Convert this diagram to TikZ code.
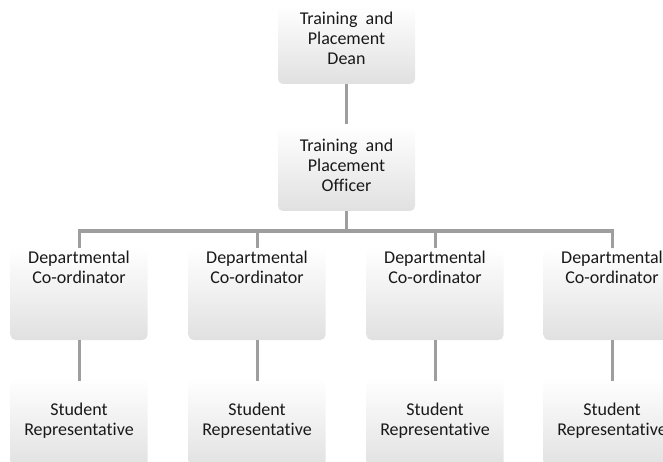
\documentclass[tikz,border=0pt]{standalone}
\usepackage{fontspec}
\setmainfont{Carlito}[Ligatures={NoCommon}]
\begin{document}
\begin{tikzpicture}[x=1pt,y=-1pt,
  box/.style={rectangle, rounded corners=5pt, minimum width=137pt, inner sep=0pt,
    top color=white, middle color=white, bottom color=black!12, draw=none},
  lbl/.style={align=center, inner sep=0pt, font=\fontsize{18}{20}\selectfont, text=black!90},
  conn/.style={draw=black!38, line width=3pt, line join=miter}]
\useasboundingbox (0,0) rectangle (663,462);
\clip (0,0) rectangle (663,462);
% boxes
\node[box, minimum height=79pt] (dean) at (346.5,44.5) {};
\node[box, minimum height=85pt] (officer) at (346.5,168.5) {};
\foreach \i/\x in {1/79,2/257,3/435,4/612}{
  \node[box, minimum height=92pt] (d\i) at (\x,294) {};
  \node[box, minimum height=92pt] (s\i) at (\x,424) {};
  \coordinate (b\i) at (\x,231);
}
\coordinate (ob) at (346.5,231);
% texts
\node[lbl] (deant) at (346.5,38) {Training\ \ and\\Placement\\Dean};
\node[lbl] (officert) at (346.5,165) {Training\ \ and\\Placement\\Officer};
\foreach \i/\x in {1/79,2/257,3/435,4/612}{
  \node[lbl] (dt\i) at (\x,267) {Departmental\\Co-ordinator};
  \node[lbl] (st\i) at (\x,421) {Student\\Representative};
}
% connectors
\draw[conn] (dean.south) -- ([yshift=2pt]officer.north);
\draw[conn] (officer.south) -- (ob);
\draw[conn] (d1.north) -- (b1) -- (b4) -- (d4.north);
\draw[conn] (b2) -- (d2.north);
\draw[conn] (b3) -- (d3.north);
\foreach \i in {1,2,3,4}{
  \draw[conn] (d\i.south) -- ([yshift=-3pt]s\i.north);
}
\end{tikzpicture}
\end{document}
